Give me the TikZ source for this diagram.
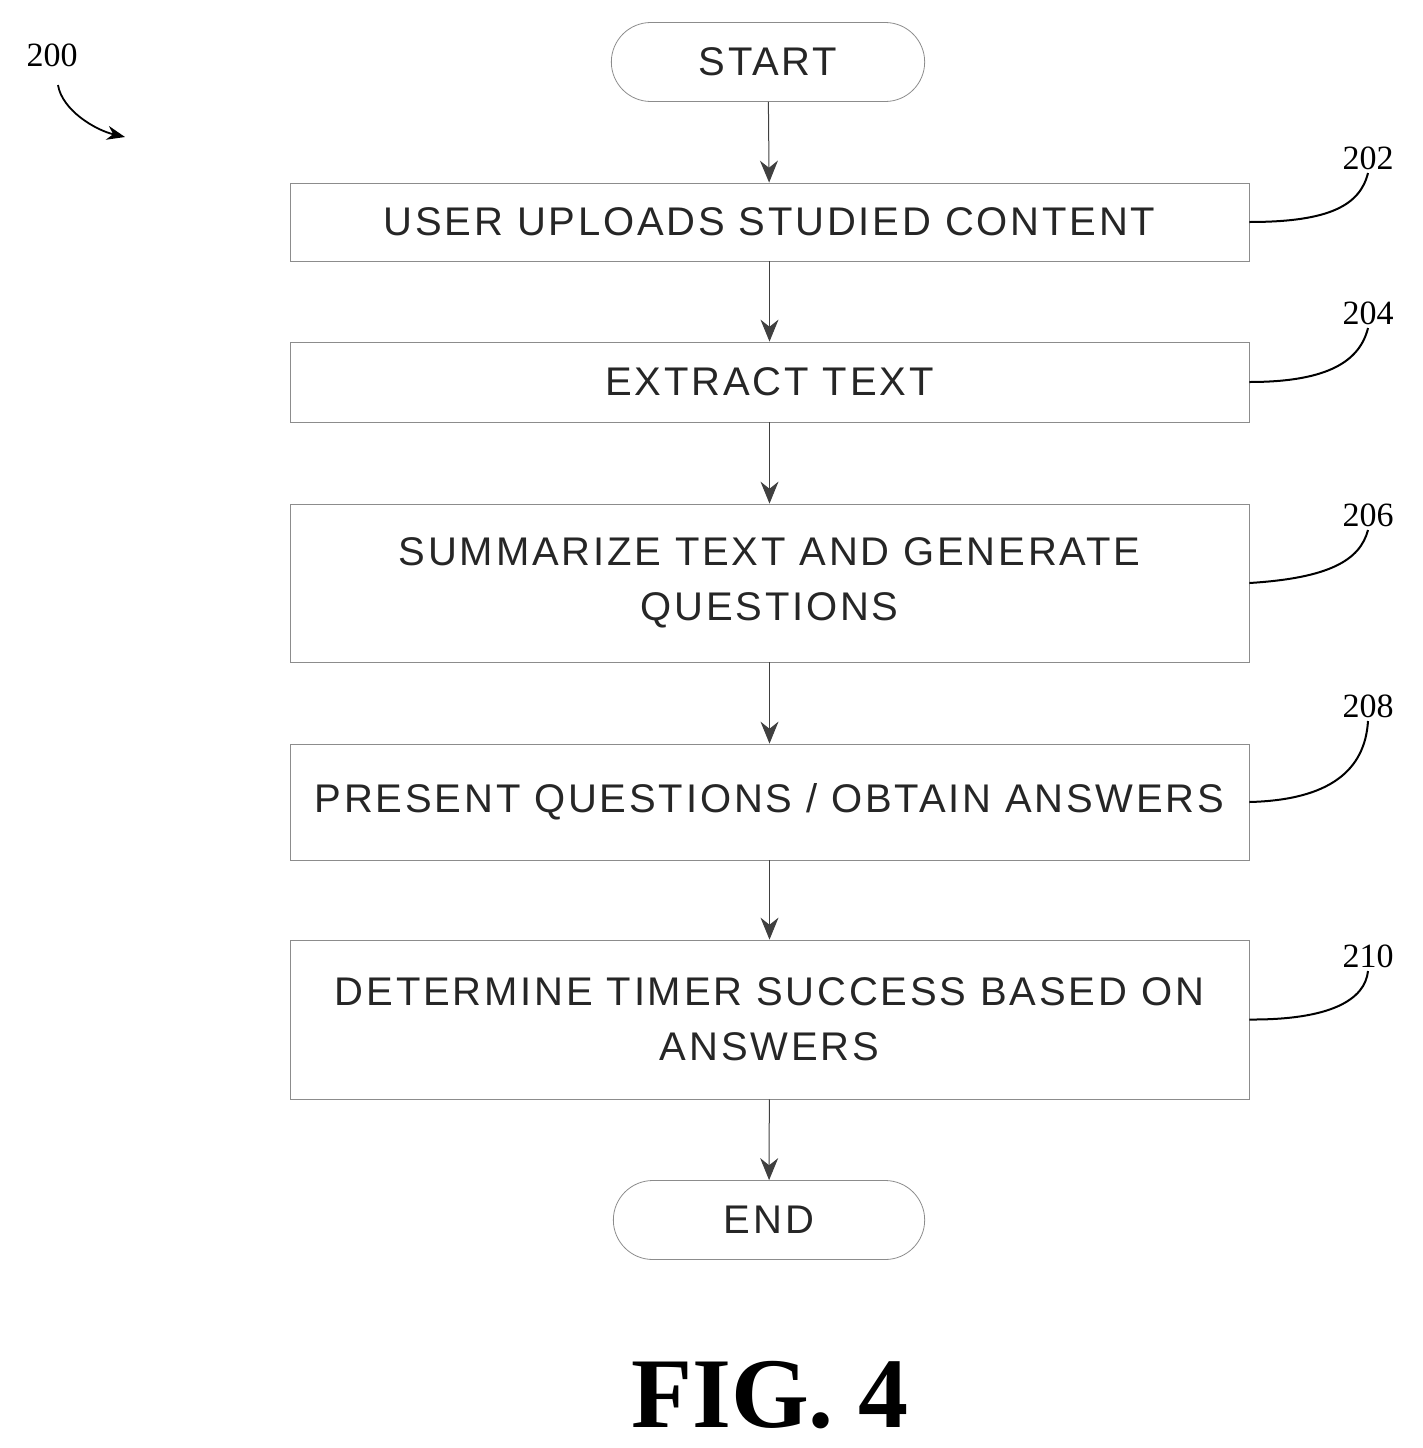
\documentclass[tikz,border=0pt]{standalone}
\usepackage{fontspec}
\setmainfont{Liberation Serif}
\newfontfamily\boxfont[LetterSpace=7]{Liberation Sans}
\usetikzlibrary{arrows.meta,shapes.misc}
\begin{document}
\begin{tikzpicture}[x=1pt,y=-1pt,
  box/.style={draw=black!45,line width=0.8pt,minimum width=959pt,align=center,font=\boxfont\fontsize{40}{55}\selectfont,text=black!85},
  term/.style={draw=black!45,line width=0.8pt,rounded rectangle,minimum width=320pt,minimum height=79pt,font=\boxfont\fontsize{40}{46}\selectfont,text=black!85},
  arr/.style={-{Stealth[length=22pt,width=18pt]},line width=1pt,black!75},
  lead/.style={line width=2pt},
  ref/.style={font=\fontsize{34}{40}\selectfont}]
\useasboundingbox (0,0) rectangle (1422,1448);
\node[term] (s) at (768,62) {START};
\node[box,minimum height=78pt] (b1) at (769.5,222) {USER UPLOADS STUDIED CONTENT};
\node[box,minimum height=80pt] (b2) at (769.5,382) {EXTRACT TEXT};
\node[box,minimum height=158pt] (b3) at (769.5,583) {SUMMARIZE TEXT AND GENERATE\\QUESTIONS};
\node[box,minimum height=116pt] (b4) at (769.5,802) {PRESENT QUESTIONS / OBTAIN ANSWERS};
\node[box,minimum height=159pt] (b5) at (769.5,1019.5) {DETERMINE TIMER SUCCESS BASED ON\\ANSWERS};
\node[term,minimum width=318pt] (e) at (769,1220) {END};
\draw[arr] (s) -- (b1);
\draw[arr] (b1) -- (b2);
\draw[arr] (b2) -- (b3);
\draw[arr] (b3) -- (b4);
\draw[arr] (b4) -- (b5);
\draw[arr] (b5) -- (e);
\node[ref] (r202) at (1368,158) {202};
\node[ref] (r204) at (1368,313) {204};
\node[ref] (r206) at (1368,515) {206};
\node[ref] (r208) at (1368,706) {208};
\node[ref] (r210) at (1368,956) {210};
\draw[lead] (b1.east) .. controls (1330,222) and (1360,205) .. (r202.south);
\draw[lead] (b2.east) .. controls (1330,382) and (1360,360) .. (r204.south);
\draw[lead] (b3.east) .. controls (1330,578) and (1360,560) .. (r206.south);
\draw[lead] (b4.east) .. controls (1330,800) and (1365,770) .. (r208.south);
\draw[lead] (b5.east) .. controls (1330,1020) and (1365,1000) .. (r210.south);
\node[ref] (r200) at (52,55) {200};
\coordinate (a200) at (125,137);
\draw[line width=1.8pt,-{Stealth[length=18pt,width=14pt]}] (58,85) .. controls (62,110) and (95,130) .. (a200);
\node[font=\bfseries\fontsize{100}{110}\selectfont] (fig) at (770,1395) {FIG. 4};
\end{tikzpicture}
\end{document}
